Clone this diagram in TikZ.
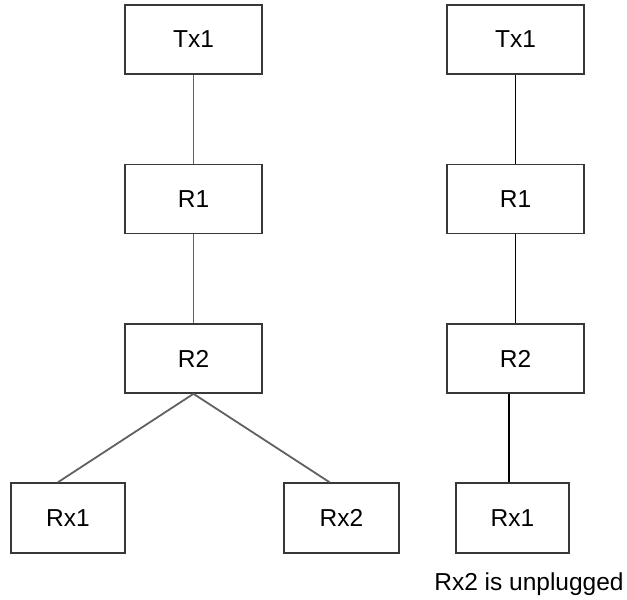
\documentclass[tikz,border=0pt]{standalone}
\usepackage{fontspec}
\setmainfont{Liberation Sans}
\begin{document}
\begin{tikzpicture}[x=1pt,y=-1pt,
  box/.style={draw=black!78, line width=1.6pt, minimum width=137pt, minimum height=69pt, inner sep=0pt, font=\fontsize{24.5}{28}\selectfont, fill=white},
  rxbox/.style={box, minimum width=114pt, minimum height=70pt},
  lconn/.style={draw=black!62, line width=1.8pt},
  rconn/.style={draw=black, line width=1.4pt}]
\useasboundingbox[fill=white] (0,0) rectangle (627,600);
% left tree
\node[box] (tx1a) at (193.5,39.5) {Tx1};
\node[box] (r1a) at (193.5,199) {R1};
\node[box] (r2a) at (193.5,358.5) {R2};
\node[rxbox] (rx1a) at (68,518) {Rx1};
\node[rxbox, minimum width=115pt] (rx2a) at (341.5,518) {Rx2};
\draw[lconn] (tx1a) -- (r1a);
\draw[lconn] (r1a) -- (r2a);
\draw[lconn] (r2a.south) -- ([xshift=-10pt]rx1a.north);
\draw[lconn] (r2a.south) -- ([xshift=-12pt]rx2a.north);
% right tree
\node[box] (tx1b) at (515.5,39.5) {Tx1};
\node[box] (r1b) at (515.5,199) {R1};
\node[box] (r2b) at (515.5,358.5) {R2};
\node[rxbox, minimum width=113pt] (rx1b) at (512.5,518) {Rx1};
\draw[rconn] (tx1b) -- (r1b);
\draw[rconn] (r1b) -- (r2b);
\draw[rconn] ([xshift=-3.5pt]rx1b.north) -- ([xshift=-3.5pt]rx1b.north |- r2b.south);
\node[anchor=base, inner sep=0pt, font=\fontsize{24.5}{28}\selectfont] (note) at (529,590) {Rx2 is unplugged};
\end{tikzpicture}
\end{document}
